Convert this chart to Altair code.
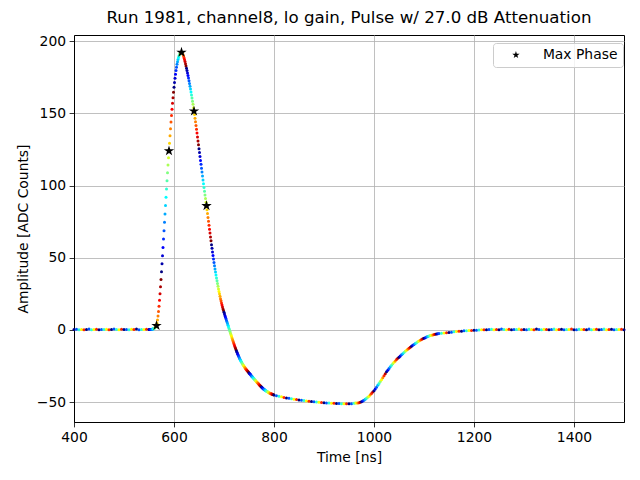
import numpy as np
import pandas as pd
import altair as alt

# ---------------- data ----------------
base_start, base_step = 400, 5
base_vals = [0.3, 0.5, 0.2, 0.4, 0.1, 0.4, 0.6, 0.2, 0.3, 0.5,
             0.2, 0.4, 0.3, 0.5, 0.1, 0.4, 0.6, 0.3, 0.2, 0.5,
             0.3, 0.4, 0.1, 0.5, 0.3, 0.6, 0.2, 0.4, 0.3, 0.5,
             0.3]

fast_start, fast_step = 551, 1
fast_vals = [
    0.3, 0.4, 0.3, 0.4, 0.4, 0.5, 0.6, 0.7, 0.9, 1.1, 1.3, 1.6, 2.0, 2.4, 3.0,
    4.7, 6.9, 9.6, 12.8, 16.5, 20.6, 25.1, 29.9, 35.0, 40.3,
    45.8, 51.4, 57.1, 62.9, 68.7, 74.5, 80.3, 86.1, 91.9, 97.6,
    103.3, 108.9, 114.2, 119.2, 124.0,
    129.3, 134.4, 139.3, 144.0, 148.5, 152.8, 156.9, 160.8, 164.5, 168.0,
    171.3, 174.3, 177.1, 179.6, 181.9, 183.9, 185.7, 187.3, 188.7, 189.8,
    190.7, 191.4, 191.9, 192.1, 192.2,
    192.0, 191.5, 190.7, 189.7, 188.5, 187.2, 185.8, 184.3, 182.8, 181.2,
    179.6, 177.9, 176.2, 174.4, 172.6, 170.7, 168.8, 166.8, 164.8, 162.7,
    160.6, 158.4, 156.2, 153.9, 151.5,
    149.1, 146.6, 144.1, 141.5, 138.9, 136.3, 133.6, 130.9, 128.2, 125.5,
    122.8, 120.1, 117.4, 114.7, 112.0, 109.3, 106.6, 103.9, 101.3, 98.7,
    96.1, 93.5, 91.0, 88.5, 86.0,
    83.3, 80.6, 77.9, 75.2, 72.5, 69.8, 67.1, 64.4, 61.7, 59.0,
    56.5, 54.0, 51.5, 49.1, 46.8, 44.5, 42.3, 40.2, 38.1, 36.0,
    34.0, 32.1, 30.2, 28.4, 26.7, 25.0, 23.3, 21.7, 20.2, 18.7,
    17.3, 15.9, 14.6, 13.4, 12.2,
    11.0, 9.9, 8.8, 7.7, 6.6, 5.5, 4.4, 3.3, 2.2, 1.1,
    0.0, -1.1, -2.2, -3.3, -4.4, -5.5, -6.6, -7.6, -8.7, -9.7,
    -10.7, -11.7, -12.7, -13.7, -14.6,
    -15.5, -16.4, -17.2, -18.0, -18.7, -19.5, -20.2, -20.9, -21.6, -22.2,
    -22.9, -23.5, -24.0, -24.6, -25.1, -25.7, -26.2, -26.6, -27.1, -27.6,
    -28.0, -28.4, -28.8, -29.3, -29.7,
    -30.1, -30.5, -30.9, -31.4, -31.8, -32.2, -32.6, -33.0, -33.4, -33.8,
    -34.2, -34.6, -35.0, -35.4, -35.8, -36.2, -36.6, -36.9, -37.3, -37.7,
    -38.1, -38.4, -38.8, -39.2, -39.5,
    -39.8, -40.2, -40.5, -40.8, -41.1, -41.3, -41.6, -41.9, -42.1, -42.4,
    -42.6, -42.8, -43.0, -43.2, -43.4, -43.6, -43.8, -43.9, -44.1, -44.3,
    -44.4, -44.6, -44.7, -44.8, -45.0,
]

under_start, under_step = 805, 5
under_vals = [-45.5, -45.9, -46.3, -46.7, -47.0, -47.3, -47.6, -47.9, -48.2, -48.5,
              -48.7, -48.9, -49.1, -49.3, -49.5, -49.7, -49.9, -50.1, -50.2, -50.4,
              -50.5, -50.6, -50.7, -50.8, -50.9, -50.9, -51.0, -51.0, -51.1, -51.1,
              -51.0, -50.8]

rec_start, rec_step = 962.5, 2.5
rec_vals = [-50.6, -50.6, -50.5, -50.3, -50.0, -49.6, -49.1, -48.6, -48.0, -47.3,
            -46.6, -45.8, -44.9, -44.0, -43.0, -42.0, -40.8, -39.6, -38.3, -37.0,
            -35.7, -34.4, -33.0, -31.6, -30.3, -29.0, -27.8, -26.6, -25.5, -24.4,
            -23.4, -22.4, -21.4, -20.5, -19.6, -18.8, -18.0, -17.2, -16.4, -15.6,
            -14.8, -14.1, -13.4, -12.7, -12.0, -11.3, -10.6, -10.0, -9.4, -8.8,
            -8.2, -7.6, -7.1, -6.6, -6.1, -5.7, -5.3, -4.9, -4.5, -4.2,
            -3.9, -3.6, -3.4, -3.2, -3.0, -2.8, -2.6, -2.5]

tail_start, tail_step = 1135, 5
tail_vals = [-2.3, -2.1, -1.9, -1.7, -1.5, -1.3, -1.1, -0.9, -0.8, -0.6,
             -0.5, -0.4, -0.3, -0.2, -0.1, 0.0, 0.1, 0.2, 0.2, 0.3,
             0.5, 0.1, 0.4, 0.2, 0.6, 0.3, 0.1, 0.5, 0.2, 0.4,
             0.3, 0.6, 0.1, 0.4, 0.2, 0.5, 0.3, 0.1, 0.6, 0.3,
             0.2, 0.5, 0.4, 0.1, 0.3, 0.6, 0.2, 0.4, 0.5, 0.1,
             0.3, 0.4, 0.6, 0.2, 0.1, 0.5, 0.3, 0.4, 0.2, 0.6,
             0.1, 0.3, 0.5, 0.2, 0.4, 0.6, 0.1, 0.3, 0.5, 0.2,
             0.4, 0.3, 0.5, 0.2]

max_phase_t = [565, 590, 615, 640, 665]
max_phase_v = [3.0, 124.0, 192.2, 151.5, 86.0]

x_ticks = [400, 600, 800, 1000, 1200, 1400]
y_ticks = [-50, 0, 50, 100, 150, 200]
title_text = "Run 1981, channel8, lo gain, Pulse w/ 27.0 dB Attenuation"

# ---------------- build tables ----------------
PERIOD = 25.0
PHASE0 = 550.0
# five-pointed star as a unit-box SVG path (Vega has no built-in "star")
STAR = ("M0,-1L0.2245,-0.309L0.9511,-0.309L0.3633,0.118L0.5878,0.809L0,0.382"
        "L-0.5878,0.809L-0.3633,0.118L-0.9511,-0.309L-0.2245,-0.309Z")


def jet_hex(x):
    r = float(np.clip(1.5 - abs(4 * x - 3), 0, 1))
    g = float(np.clip(1.5 - abs(4 * x - 2), 0, 1))
    b = float(np.clip(1.5 - abs(4 * x - 1), 0, 1))
    return "#{:02x}{:02x}{:02x}".format(int(round(r * 255)), int(round(g * 255)), int(round(b * 255)))


rows = []
for start, step, vals in [(base_start, base_step, base_vals),
                          (fast_start, fast_step, fast_vals),
                          (under_start, under_step, under_vals),
                          (rec_start, rec_step, rec_vals),
                          (tail_start, tail_step, tail_vals)]:
    for i, v in enumerate(vals):
        t = start + step * i
        p = (t - PHASE0) % PERIOD
        rows.append({"t": float(t), "v": float(v), "col": jet_hex(min(p / 24.0, 1.0))})
df = pd.DataFrame(rows)

stars = pd.DataFrame({"t": [float(x) for x in max_phase_t], "v": max_phase_v,
                      "label": ["Max Phase"] * len(max_phase_t)})

FONT = "DejaVu Sans"
FS = 13.89

xscale = alt.Scale(domain=[400, 1500], nice=False, zero=False)
yscale = alt.Scale(domain=[-63.7, 204.2], nice=False, zero=False)

dots = alt.Chart(df).mark_circle(size=9, opacity=1).encode(
    x=alt.X("t:Q", scale=xscale,
            axis=alt.Axis(values=x_ticks, title="Time [ns]", labelFlush=False, labelOverlap=False, format="d")),
    y=alt.Y("v:Q", scale=yscale,
            axis=alt.Axis(values=y_ticks, title="Amplitude [ADC Counts]", labelOverlap=False)),
    color=alt.Color("col:N", scale=None),
)

star_layer = alt.Chart(stars).mark_point(filled=True, size=120, opacity=1, color="black", strokeWidth=0).encode(
    x=alt.X("t:Q"),
    y=alt.Y("v:Q"),
    shape=alt.Shape("label:N", scale=alt.Scale(range=[STAR]),
                    legend=alt.Legend(title=None, orient="none", legendX=419, legendY=8,
                                      fillColor="rgba(255,255,255,0.8)", strokeColor="#cccccc",
                                      cornerRadius=3, padding=5, symbolSize=60,
                                      symbolFillColor="black", symbolStrokeWidth=0,
                                      symbolOffset=11, labelOffset=20,
                                      labelFont=FONT, labelFontSize=FS, labelColor="black")),
)

chart = alt.layer(dots, star_layer).properties(
    width=550, height=387,
    autosize=alt.AutoSizeParams(type="none"),
    padding={"left": 66, "top": 27, "right": 8, "bottom": 50},
    title=alt.TitleParams(title_text, font=FONT, fontSize=16.67, fontWeight="normal",
                          color="black", anchor="middle", offset=8.3, baseline="alphabetic", dy=14),
).configure_view(
    stroke="black", strokeWidth=1
).configure_axis(
    labelFont=FONT, labelFontSize=FS, labelColor="black",
    titleFont=FONT, titleFontSize=FS, titleFontWeight="normal", titleColor="black",
    tickColor="black", tickSize=4.9, tickWidth=0.8, domainColor="black", domainWidth=1,
    labelPadding=3.5, titlePadding=6,
    grid=True, gridColor="#b0b0b0", gridWidth=0.8,
)

chart.save("out.html", embed_options={"renderer": "svg", "actions": False})
